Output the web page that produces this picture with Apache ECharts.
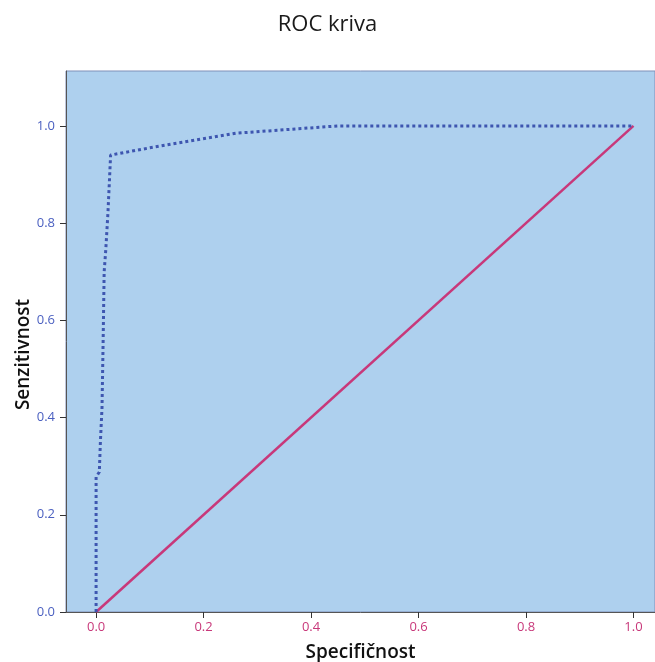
<!DOCTYPE html>
<html><head><meta charset="utf-8">
<script src="https://cdn.jsdelivr.net/npm/echarts@6/dist/echarts.min.js"></script>
<style>html,body{margin:0;padding:0;background:#fff}#c{width:655px;height:662px}</style>
</head><body><div id="c"></div>
<script>
const rocX = [0, 0, 0.006, 0.008, 0.011, 0.013, 0.015, 0.018, 0.022, 0.027, 0.1, 0.26, 0.45, 1.0];
const rocY = [0, 0.278, 0.288, 0.35, 0.42, 0.55, 0.70, 0.745, 0.82, 0.94, 0.955, 0.985, 1.0, 1.0];
const refX = [0, 1];
const refY = [0, 1];
const ticks = [0, 0.2, 0.4, 0.6, 0.8, 1.0];

const chart = echarts.init(document.getElementById('c'), null, {renderer: 'canvas'});
chart.setOption({
  animation: false,
  title: {text: 'ROC kriva', left: 'center', top: 9,
    textStyle: {fontFamily: 'Open Sans', fontSize: 22, fontWeight: 'normal', color: '#1a1a1a'}},
  grid: {left: 66, right: 0, top: 71, bottom: 50, containLabel: false, outerBoundsMode: 'none',
    show: true, backgroundColor: '#aed0ee', borderColor: '#7f8fb8', borderWidth: 1},
  xAxis: {type: 'value', min: -0.056, max: 1.04,
    name: 'Specifičnost', nameLocation: 'middle', nameGap: 31,
    nameTextStyle: {fontFamily: 'Open Sans', fontSize: 19, fontWeight: 600, color: '#111'},
    axisLine: {show: true, onZero: false, lineStyle: {color: '#555', width: 1}},
    axisTick: {show: true, customValues: ticks, length: 6, lineStyle: {color: '#333'}},
    axisLabel: {customValues: ticks, formatter: v => v.toFixed(1), color: '#c8387a', fontFamily: 'Open Sans', fontSize: 13, margin: 9},
    splitLine: {show: false}},
  yAxis: {type: 'value', min: 0, max: 1.113,
    name: 'Senzitivnost', nameLocation: 'middle', nameGap: 33, nameMoveOverlap: false,
    nameTextStyle: {fontFamily: 'Open Sans', fontSize: 19, fontWeight: 600, color: '#111', padding: [0, 26, 0, 0]},
    axisLine: {show: true, onZero: false, lineStyle: {color: '#555', width: 1}},
    axisTick: {show: true, customValues: ticks, length: 6, lineStyle: {color: '#333'}},
    axisLabel: {customValues: ticks, formatter: v => v.toFixed(1), color: '#4a5fc0', fontFamily: 'Open Sans', fontSize: 13, margin: 11},
    splitLine: {show: false}},
  series: [
    {type: 'line', data: refX.map((x, i) => [x, refY[i]]), symbol: 'none',
      lineStyle: {color: '#c8387a', width: 2.5}},
    {type: 'line', data: rocX.map((x, i) => [x, rocY[i]]), symbol: 'none',
      lineStyle: {color: '#3e56b0', width: 3, type: [3, 3], cap: 'butt'}}
  ]
});
</script></body></html>
